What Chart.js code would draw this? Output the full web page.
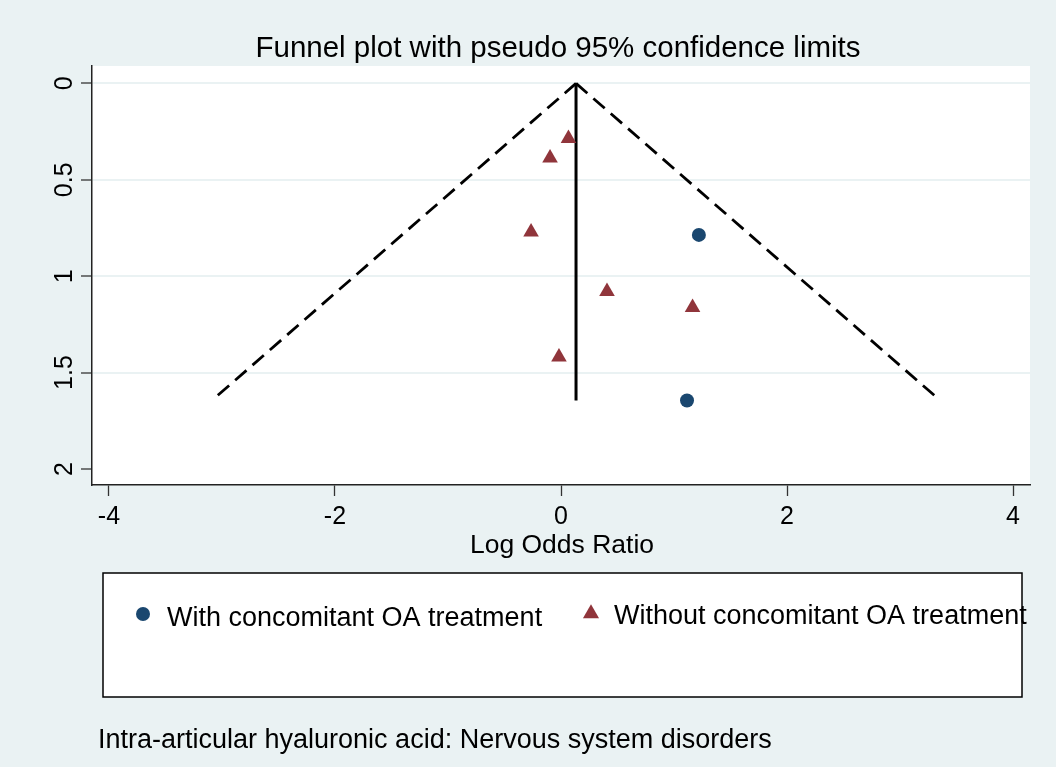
<!DOCTYPE html>
<html>
<head>
<meta charset="utf-8">
<script src="https://cdn.jsdelivr.net/npm/chart.js@4.4.0/dist/chart.umd.min.js"></script>
<style>
  html, body { margin: 0; padding: 0; background: #eaf2f3; }
  canvas { display: block; }
</style>
</head>
<body>
<canvas id="funnel" width="1056" height="767"></canvas>
<script>
// values: log odds ratio (x) against its standard error (y)
const withOA_lor = [1.22, 1.115];
const withOA_se = [0.786, 1.645];
const withoutOA_lor = [0.066, -0.097, -0.265, 0.407, 1.164, -0.018];
const withoutOA_se = [0.286, 0.387, 0.771, 1.079, 1.163, 1.419];

// funnel: pooled estimate and pseudo 95% limits, apex first so the dashes start there
const lowerLimit_lor = [0.133, -3.09];
const upperLimit_lor = [0.133, 3.356];
const limit_se = [0, 1.645];
const pooled_lor = [0.133, 0.133];
const pooled_se = [0, 1.645];

const xTicks = [-4, -2, 0, 2, 4];
const yTicks = [0, 0.5, 1, 1.5, 2];
const yTickLabels = ["0", "0.5", "1", "1.5", "2"];

const titleText = "Funnel plot with pseudo 95% confidence limits";
const xTitle = "Log Odds Ratio";
const noteText = "Intra-articular hyaluronic acid: Nervous system disorders";

const navy = "#1a476f";
const maroon = "#90353b";
const bg = "#eaf2f3";
const FONT = '"Liberation Sans", Arial, sans-serif';

const toPts = (xs, ys) => xs.map((x, i) => ({ x: x, y: ys[i] }));

function marker(ctx, style, r, x, y, color) {
    ctx.fillStyle = color;
    ctx.beginPath();
    if (style === "circle") {
        ctx.arc(x, y, r, 0, Math.PI * 2);
    } else {
        // same geometry as chart.js triangle point
        let rad = 0;
        ctx.moveTo(x + Math.sin(rad) * r, y - Math.cos(rad) * r);
        rad += 2 * Math.PI / 3;
        ctx.lineTo(x + Math.sin(rad) * r, y - Math.cos(rad) * r);
        rad += 2 * Math.PI / 3;
        ctx.lineTo(x + Math.sin(rad) * r, y - Math.cos(rad) * r);
        ctx.closePath();
    }
    ctx.fill();
}

// background, title, rotated y labels, legend box and note
const stataFrame = {
    id: "stataFrame",
    beforeDraw(chart) {
        const { ctx, chartArea: a } = chart;
        ctx.save();
        ctx.fillStyle = bg;
        ctx.fillRect(0, 0, chart.width, chart.height);
        ctx.fillStyle = "#fff";
        ctx.fillRect(a.left, a.top, a.right - a.left, a.bottom - a.top);
        ctx.restore();
    },
    afterDraw(chart) {
        const ctx = chart.ctx;
        const ys = chart.scales.y;
        ctx.save();
        ctx.fillStyle = "#000";
        ctx.textBaseline = "alphabetic";

        ctx.textAlign = "center";
        ctx.font = "29.5px " + FONT;
        ctx.fillText(titleText, 558, 57);

        ctx.font = "26.5px " + FONT;
        ctx.fillText(xTitle, 562, 553);

        ctx.font = "25px " + FONT;
        yTicks.forEach((v, i) => {
            ctx.save();
            ctx.translate(72, ys.getPixelForValue(v));
            ctx.rotate(-Math.PI / 2);
            ctx.fillText(yTickLabels[i], 0, 0);
            ctx.restore();
        });

        // legend
        ctx.fillStyle = "#fff";
        ctx.fillRect(103, 573, 919, 124);
        ctx.strokeStyle = "#000";
        ctx.lineWidth = 1.5;
        ctx.strokeRect(103, 573, 919, 124);

        const ds = chart.data.datasets;
        marker(ctx, "circle", 7, 143, 614, navy);
        marker(ctx, "triangle", 9.3, 591, 613.5, maroon);
        ctx.fillStyle = "#000";
        ctx.textAlign = "left";
        ctx.font = "27px " + FONT;
        ctx.fillText(ds[0].label, 167, 625.5);
        ctx.fillText(ds[1].label, 614, 624);

        ctx.font = "27px " + FONT;
        ctx.fillText(noteText, 98, 748);
        ctx.restore();
    }
};

new Chart(document.getElementById("funnel"), {
    type: "scatter",
    data: {
        datasets: [
            {
                label: "With concomitant OA treatment",
                data: toPts(withOA_lor, withOA_se),
                pointStyle: "circle",
                pointRadius: 7,
                backgroundColor: navy,
                borderWidth: 0
            },
            {
                label: "Without concomitant OA treatment",
                data: toPts(withoutOA_lor, withoutOA_se),
                pointStyle: "triangle",
                pointRadius: 9,
                backgroundColor: maroon,
                borderWidth: 0
            },
            {
                label: "Pooled",
                data: toPts(pooled_lor, pooled_se),
                showLine: true,
                borderColor: "#000",
                borderWidth: 3,
                pointRadius: 0
            },
            {
                label: "Lower limit",
                data: toPts(lowerLimit_lor, limit_se),
                showLine: true,
                borderColor: "#000",
                borderWidth: 2.8,
                borderDash: [15, 8],
                pointRadius: 0
            },
            {
                label: "Upper limit",
                data: toPts(upperLimit_lor, limit_se),
                showLine: true,
                borderColor: "#000",
                borderWidth: 2.8,
                borderDash: [15, 8],
                pointRadius: 0
            }
        ]
    },
    options: {
        responsive: false,
        animation: false,
        devicePixelRatio: 1,
        layout: { padding: { left: 0, right: 26, top: 66, bottom: 0 } },
        plugins: {
            legend: { display: false },
            title: { display: false },
            tooltip: { enabled: false }
        },
        scales: {
            x: {
                type: "linear",
                min: -4.15,
                max: 4.15,
                afterBuildTicks: s => { s.ticks = xTicks.map(v => ({ value: v })); },
                afterFit: s => { s.height = 282; },
                grid: { drawOnChartArea: false, tickLength: 11, tickColor: "#333", tickWidth: 1.3 },
                border: { color: "#222", width: 1.5 },
                ticks: {
                    font: { family: FONT, size: 25 },
                    color: "#000",
                    padding: 6,
                    maxRotation: 0,
                    autoSkip: false,
                    callback: v => String(v)
                }
            },
            y: {
                type: "linear",
                reverse: true,
                min: -0.09,
                max: 2.083,
                afterBuildTicks: s => { s.ticks = yTicks.map(v => ({ value: v })); },
                afterFit: s => { s.width = 92; },
                grid: {
                    color: c => (c.tick && c.tick.value === 2) ? "rgba(0,0,0,0)" : bg,
                    lineWidth: 2,
                    tickLength: 11,
                    tickColor: "#333",
                    tickWidth: 1.3
                },
                border: { color: "#222", width: 1.5 },
                ticks: { display: false }
            }
        }
    },
    plugins: [stataFrame]
});
</script>
</body>
</html>
